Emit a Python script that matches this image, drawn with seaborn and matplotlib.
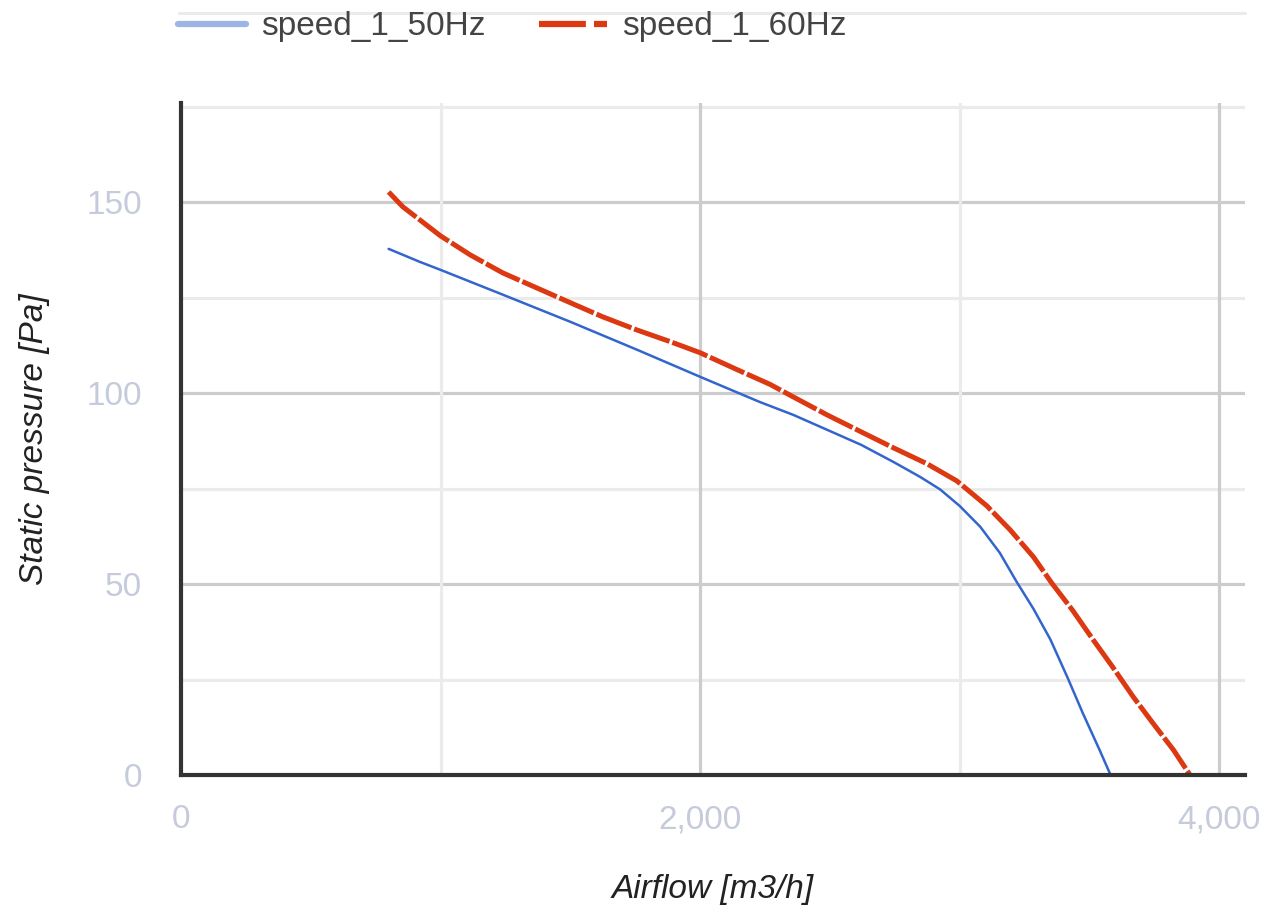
import matplotlib
matplotlib.use("Agg")
import matplotlib.pyplot as plt
from matplotlib.lines import Line2D
import pandas as pd
import seaborn as sns

# fan curve data
airflow_50 = [800, 920, 1000, 1240, 1500, 1760, 2000, 2230, 2360, 2490, 2620,
              2745, 2850, 2925, 3000, 3080, 3155, 3220, 3285, 3350, 3415, 3475,
              3540, 3582]
pressure_50 = [137.8, 134.4, 132.3, 125.8, 118.7, 111.3, 104.3, 97.7, 94.3, 90.4,
               86.5, 82, 78, 74.8, 70.5, 65, 58.2, 50.6, 43.5, 35.5, 25.7, 16.2,
               6.5, 0]
airflow_60 = [800, 855, 920, 1000, 1115, 1240, 1370, 1500, 1625, 1755, 1885, 2000,
              2145, 2270, 2360, 2490, 2620, 2745, 2875, 2990, 3105, 3195, 3285,
              3355, 3435, 3515, 3590, 3670, 3745, 3825, 3888]
pressure_60 = [152.7, 148.8, 145.4, 141.2, 136.2, 131.5, 127.6, 123.7, 120, 116.6,
               113.5, 110.6, 106.1, 102.3, 99, 94.3, 89.9, 85.7, 81.5, 77, 70.5,
               64.2, 57.1, 50.3, 43.2, 35.4, 28.3, 20.4, 13.6, 6.5, 0]
series_names = ["speed_1_50Hz", "speed_1_60Hz"]

df50 = pd.DataFrame({"airflow": airflow_50, "pressure": pressure_50})
df60 = pd.DataFrame({"airflow": airflow_60, "pressure": pressure_60})

sns.set_style("white")
plt.rcParams["font.family"] = ["Liberation Sans", "DejaVu Sans"]

fig = plt.figure(figsize=(12.77, 9.18), dpi=100)
ax = fig.add_axes([181 / 1277, 143 / 918, 1064 / 1277, 672 / 918])

# gridlines
for v in [25, 75, 125, 175]:
    ax.axhline(v, color="#ebebeb", lw=2.3, zorder=0)
for v in [50, 100, 150]:
    ax.axhline(v, color="#cccccc", lw=2.3, zorder=0)
for v in [1000, 3000]:
    ax.axvline(v, color="#ebebeb", lw=2.3, zorder=0)
for v in [2000, 4000]:
    ax.axvline(v, color="#cccccc", lw=2.3, zorder=0)

sns.lineplot(data=df50, x="airflow", y="pressure", ax=ax, color="#3366cc",
             lw=1.8, sort=False, zorder=3)
sns.lineplot(data=df60, x="airflow", y="pressure", ax=ax, color="#dc3912",
             lw=3.6, sort=False, zorder=4)
ax.lines[-1].set_dashes((7.5, 0.6))

ax.set_xlim(0, 4100)
ax.set_ylim(0, 176)
ax.set_xticks([0, 2000, 4000])
ax.set_xticklabels(["0", "2,000", "4,000"])
ax.set_yticks([0, 50, 100, 150])
ax.tick_params(axis="both", length=0, labelsize=24, labelcolor="#c5cbdb")
ax.tick_params(axis="y", pad=28)
ax.tick_params(axis="x", pad=21)

for s in ["top", "right"]:
    ax.spines[s].set_visible(False)
for s in ["left", "bottom"]:
    ax.spines[s].set_color("#333333")
    ax.spines[s].set_linewidth(3)
    ax.spines[s].set_zorder(5)

ax.set_xlabel("Airflow [m3/h]", fontsize=24, style="italic", color="#222222",
              labelpad=28)
ax.set_ylabel("Static pressure [Pa]", fontsize=24, style="italic", color="#222222",
              labelpad=26)

# legend on top
h1 = Line2D([], [], color="#9cb4e4", lw=4.5)
h2 = Line2D([], [], color="#dc3912", lw=4.5, dashes=(7.5, 1.3))
fig.legend([h1, h2], series_names, loc="center left",
           bbox_to_anchor=(178 / 1277, 1 - 27 / 918), ncol=2, frameon=False,
           fontsize=24, handlelength=2.05, handletextpad=0.45,
           columnspacing=1.6, borderpad=0, borderaxespad=0,
           labelcolor="#444444")

# thin line above the legend
fig.add_artist(Line2D([179 / 1277, 1245 / 1277], [1 - 13 / 918, 1 - 13 / 918],
                      color="#ebebeb", lw=2.2, transform=fig.transFigure))

fig.savefig("out.png", dpi=100)
